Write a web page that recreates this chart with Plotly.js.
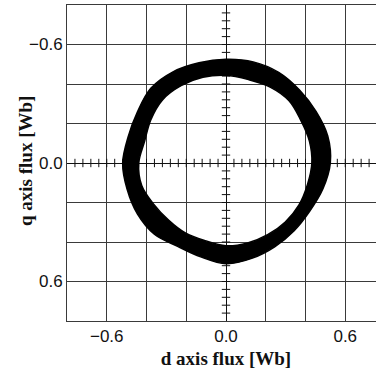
<!DOCTYPE html>
<html>
<head>
<meta charset="utf-8">
<script src="https://cdn.plot.ly/plotly-3.0.1.min.js"></script>
<style>
html,body{margin:0;padding:0;overflow:hidden;background:#fff;}
#chart{width:392px;height:369px;}
</style>
</head>
<body>
<div id="chart"></div>
<script>
// Ring boundary (polar, angle in degrees; q axis positive downward)
const angleDeg = [-180,-165,-150,-135,-120,-105,-90,-75,-60,-45,-30,-15,0,15,30,45,60,75,90,105,120,135,150,165,180];
const outerR   = [0.520,0.510,0.515,0.535,0.533,0.525,0.525,0.530,0.530,0.523,0.523,0.530,0.525,0.505,0.487,0.485,0.490,0.500,0.510,0.492,0.487,0.510,0.515,0.515,0.520];
const innerR   = [0.439,0.424,0.437,0.452,0.452,0.449,0.444,0.437,0.444,0.447,0.434,0.434,0.432,0.424,0.424,0.422,0.419,0.419,0.419,0.407,0.409,0.409,0.419,0.439,0.439];

// Axis tick values and labels
const gridVals = [-0.8,-0.6,-0.4,-0.2,0.0,0.2,0.4,0.6,0.8];
const xTickText = ['','\u22120.6','','','0.0','','','0.6',''];
const yTickText = ['','\u22120.6','','','0.0','','','0.6',''];
const axisRange = [-0.8, 0.8];
const crossStep = 0.04;
const xTitle = 'd axis flux [Wb]';
const yTitle = 'q axis flux [Wb]';

function toD(r){ return r.map((v,i)=>v*Math.cos(angleDeg[i]*Math.PI/180)); }
function toQ(r){ return r.map((v,i)=>v*Math.sin(angleDeg[i]*Math.PI/180)); }

// small cross ticks along the zero lines
const crossPos = [];
for (let k = -19; k <= 19; k++) { if (k !== 0) crossPos.push(+(k*crossStep).toFixed(2)); }

const traces = [
  {x: crossPos, y: crossPos.map(()=>0), mode:'markers', type:'scatter',
   marker:{symbol:'line-ns', size:6, line:{color:'#111', width:1}}, hoverinfo:'skip'},
  {x: crossPos.map(()=>0), y: crossPos, mode:'markers', type:'scatter',
   marker:{symbol:'line-ew', size:6, line:{color:'#111', width:1}}, hoverinfo:'skip'},
  {x: toD(innerR), y: toQ(innerR), mode:'lines', type:'scatter',
   line:{color:'#000', width:1.5, shape:'spline'}, hoverinfo:'skip'},
  {x: toD(outerR), y: toQ(outerR), mode:'lines', type:'scatter', fill:'tonext',
   fillcolor:'#000', line:{color:'#000', width:1.5, shape:'spline'}, hoverinfo:'skip'}
];

const titleFont = {family:'"Liberation Serif", "Times New Roman", serif', size:19, color:'#111', weight:'bold'};

const axisCommon = {
  tickmode:'array', tickvals: gridVals,
  showgrid:true, gridcolor:'#3a3a3a', gridwidth:1,
  zeroline:true, zerolinecolor:'#111', zerolinewidth:1,
  showline:true, linecolor:'#3a3a3a', linewidth:1, mirror:true,
  ticks:'', tickfont:{family:'Arial, "Liberation Sans", sans-serif', size:17, color:'#111'},
  fixedrange:true
};

const layout = {
  width:392, height:369,
  margin:{l:67, r:7, t:5, b:48},
  showlegend:false,
  paper_bgcolor:'#fff', plot_bgcolor:'#fff',
  xaxis: Object.assign({}, axisCommon, {
    range: axisRange, ticktext: xTickText,
    title:{text:xTitle, font:titleFont, standoff:6}
  }),
  yaxis: Object.assign({}, axisCommon, {
    range: [axisRange[1], axisRange[0]], ticktext: yTickText
  }),
  annotations:[{
    text:yTitle, font:titleFont, textangle:-90,
    xref:'paper', yref:'paper', x:0, y:0.5, xanchor:'center', yanchor:'middle',
    xshift:-42, yshift:2, showarrow:false
  }]
};

Plotly.newPlot('chart', traces, layout, {displayModeBar:false, staticPlot:true});
</script>
</body>
</html>
